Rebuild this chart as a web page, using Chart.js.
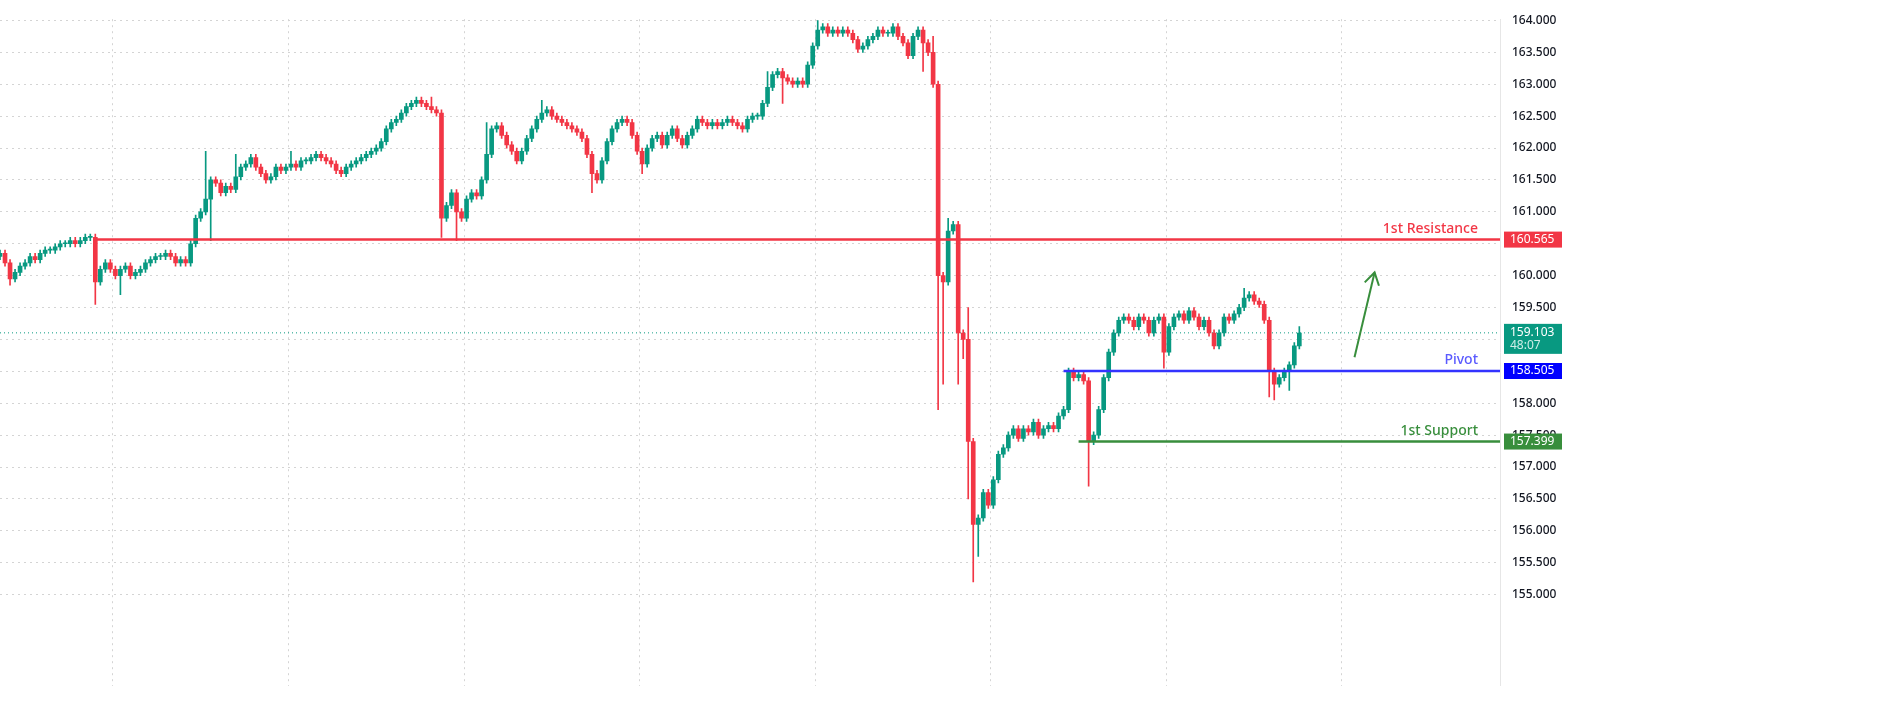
<!DOCTYPE html>
<html>
<head>
<meta charset="utf-8">
<script src="https://cdn.jsdelivr.net/npm/chart.js@4"></script>
<style>
  html, body { margin: 0; padding: 0; background: #fff; }
  #wrap { width: 1881px; height: 705px; }
</style>
</head>
<body>
<div id="wrap"><canvas id="chart"></canvas></div>
<script>
// closing prices, one per candle (open = previous close)
const closes = [
  160.35,160.2,159.95,160.05,160.15,160.2,160.3,160.25,160.35,160.4,160.4,160.45,160.5,160.5,160.55,160.5,160.55,160.6,160.6,
  159.9,160.1,160.2,160.1,160.0,160.1,160.15,160.0,160.05,160.1,160.2,160.25,160.3,160.3,160.35,160.3,160.2,160.25,160.2,
  160.5,160.9,161.0,161.2,161.5,161.45,
  161.3,161.4,161.35,161.55,161.7,161.75,161.85,161.7,
  161.6,161.5,161.55,161.7,161.65,161.7,161.75,161.7,161.8,161.8,161.85,161.9,161.85,161.8,
  161.75,161.65,161.6,161.7,161.75,161.8,161.85,161.9,161.95,162.0,
  162.1,162.3,162.4,162.45,162.55,162.65,162.7,162.75,162.7,162.65,162.6,162.55,
  160.9,161.1,161.3,161.0,160.9,161.2,161.3,161.25,
  161.5,161.9,162.3,162.35,162.2,162.05,161.95,161.8,161.95,
  162.15,162.3,162.45,162.55,162.6,162.5,162.45,
  162.4,162.35,162.3,162.25,162.15,161.9,161.6,
  161.5,161.8,162.1,162.3,162.4,162.45,162.4,
  162.2,161.95,161.75,162.0,162.15,162.2,
  162.05,162.2,162.3,162.15,162.05,162.2,162.3,162.45,
  162.4,162.35,162.4,162.35,162.4,162.45,162.4,162.35,162.3,162.45,162.5,162.5,
  162.7,162.95,163.15,163.2,163.1,163.05,163.0,163.05,163.0,
  163.3,163.6,163.85,163.9,163.8,163.85,
  163.8,163.85,163.8,163.7,163.55,163.6,163.7,163.75,163.85,163.8,163.8,163.9,163.75,163.65,
  163.45,163.75,163.85,163.65,163.5,
  163.0,160.0,159.9,160.7,160.8,159.1,159.0,
  157.4,156.1,156.2,156.6,156.4,156.8,157.2,157.3,157.5,157.6,157.45,157.6,157.55,157.7,157.5,157.6,
  157.65,157.6,157.8,157.9,158.5,158.4,158.45,158.35,157.4,157.5,157.9,158.4,158.8,159.1,159.3,159.35,
  159.3,159.2,159.35,159.3,159.1,159.3,159.35,158.8,159.2,159.35,159.4,159.3,159.45,159.35,159.2,159.3,
  159.1,158.9,159.1,159.35,159.3,159.4,159.5,159.65,159.7,159.6,159.55,
  159.3,158.5,158.3,158.4,158.5,158.6,158.9,159.1
];
const firstOpen = 160.3;
// candles whose wicks reach well beyond the body: index -> price
const longHighs = { 41: 161.95, 47: 161.9, 58: 161.95, 86: 162.8, 97: 162.4, 108: 162.75, 153: 163.2, 163: 164.0, 178: 163.95, 186: 163.75, 187: 163.05, 189: 160.9, 190: 160.85, 193: 159.5, 213: 158.55, 248: 159.8, 259: 159.2 };
const longLows = { 2: 159.85, 19: 159.55, 24: 159.7, 42: 160.55, 88: 160.6, 91: 160.55, 118: 161.3, 128: 161.6, 156: 162.7, 184: 163.2, 187: 157.9, 188: 158.3, 191: 158.3, 192: 158.7, 193: 156.5, 194: 155.2, 195: 155.6, 217: 156.7, 232: 158.55, 253: 158.1, 254: 158.05, 257: 158.2 };
const yTicks = [155, 155.5, 156, 156.5, 157, 157.5, 158, 158.5, 159, 159.5, 160, 160.5, 161, 161.5, 162, 162.5, 163, 163.5, 164];
const resistance = 160.565, pivot = 158.505, support = 157.399, lastPrice = 159.103;
const slots = 300;

const labels = Array.from({ length: slots }, (_, i) => i);
const opens = closes.map((c, i) => i === 0 ? firstOpen : closes[i - 1]);
const bodies = closes.map((c, i) => [opens[i], c]);
const wicks = closes.map((c, i) => [
  longLows[i] ?? Math.min(opens[i], c) - 0.05,
  longHighs[i] ?? Math.max(opens[i], c) + 0.05
]);
const colors = closes.map((c, i) => c >= opens[i] ? "#089981" : "#f23645");
const levelLine = (value, from) => labels.map((i) => i >= from ? value : null);

const UP = "#089981";

const overlay = {
  id: "overlay",
  afterDatasetsDraw(chart) {
    const { ctx, scales: { x, y }, chartArea } = chart;
    ctx.save();
    const bold = "500 14px 'Noto Sans', sans-serif";
    const small = "12px 'Noto Sans', sans-serif";
    const tags = [
      { v: resistance, text: "1st Resistance", color: "#f23645", bg: "#f23645", lab: "160.565" },
      { v: pivot, text: "Pivot", color: "#5a5aff", bg: "#0000ff", lab: "158.505" },
      { v: support, text: "1st Support", color: "#388e3c", bg: "#388e3c", lab: "157.399" }
    ];
    for (const t of tags) {
      const py = y.getPixelForValue(t.v);
      ctx.font = bold;
      ctx.fillStyle = t.color;
      ctx.textAlign = "right";
      ctx.textBaseline = "bottom";
      ctx.fillText(t.text, chartArea.right - 22, py - 4);
      ctx.fillStyle = t.bg;
      ctx.fillRect(chartArea.right + 4, py - 8, 58, 16);
      ctx.fillStyle = "#fff";
      ctx.textAlign = "left";
      ctx.textBaseline = "middle";
      ctx.font = small;
      ctx.fillText(t.lab, chartArea.right + 10, py);
    }
    const lp = y.getPixelForValue(lastPrice);
    ctx.fillStyle = UP;
    ctx.fillRect(chartArea.right + 4, lp - 9, 58, 30);
    ctx.fillStyle = "#fff";
    ctx.font = small;
    ctx.fillText("159.103", chartArea.right + 10, lp);
    ctx.fillStyle = "#cfeee8";
    ctx.fillText("48:07", chartArea.right + 10, lp + 13);

    // arrow
    const x1 = x.getPixelForValue(270), y1 = y.getPixelForValue(158.72);
    const x2 = x.getPixelForValue(274), y2 = y.getPixelForValue(160.05);
    ctx.strokeStyle = "#388e3c";
    ctx.lineWidth = 2;
    ctx.beginPath();
    ctx.moveTo(x1, y1);
    ctx.lineTo(x2, y2);
    ctx.stroke();
    const ang = Math.atan2(y2 - y1, x2 - x1);
    ctx.beginPath();
    ctx.moveTo(x2 - 14 * Math.cos(ang - 0.55), y2 - 14 * Math.sin(ang - 0.55));
    ctx.lineTo(x2, y2);
    ctx.lineTo(x2 - 14 * Math.cos(ang + 0.55), y2 - 14 * Math.sin(ang + 0.55));
    ctx.stroke();
    ctx.restore();
  }
};

new Chart(document.getElementById("chart"), {
  type: "bar",
  data: {
    labels: labels,
    datasets: [
      { type: "line", data: labels.map(() => lastPrice), borderColor: UP, borderWidth: 1, borderDash: [1, 3], pointRadius: 0, order: 5 },
      { type: "line", data: levelLine(resistance, 19), borderColor: "#f23645", borderWidth: 2.5, pointRadius: 0, order: 0 },
      { type: "line", data: levelLine(pivot, 212), borderColor: "#3333ff", borderWidth: 2.5, pointRadius: 0, order: 0 },
      { type: "line", data: levelLine(support, 215), borderColor: "#388e3c", borderWidth: 2.5, pointRadius: 0, order: 0 },
      { data: wicks, backgroundColor: colors, barThickness: 1, grouped: false, order: 3 },
      { data: bodies, backgroundColor: colors, barThickness: 4, grouped: false, minBarLength: 1, order: 2 }
    ]
  },
  options: {
    responsive: true,
    maintainAspectRatio: false,
    animation: false,
    layout: { padding: 0 },
    plugins: { legend: { display: false }, tooltip: { enabled: false } },
    scales: {
      x: {
        offset: false,
        ticks: { display: false },
        border: { display: false, dash: [2, 4] },
        grid: {
          color: (c) => (c.index % 35 === 23 ? "#d4d4d4" : "transparent"),
          lineWidth: 1,
          drawTicks: false
        }
      },
      y: {
        position: "right",
        min: 153.57,
        max: 164.02,
        afterBuildTicks: (scale) => { scale.ticks = yTicks.map((v) => ({ value: v })); },
        afterFit: (scale) => { scale.width = 381; },
        border: { display: true, color: "#e6e6e6", dash: [2, 4] },
        grid: { color: "#d4d4d4", drawTicks: false },
        ticks: {
          padding: 12,
          color: "#131722",
          font: { size: 12, weight: "500", family: "'Noto Sans', sans-serif" },
          callback: (v) => Number(v).toFixed(3)
        }
      }
    }
  },
  plugins: [overlay]
});
</script>
</body>
</html>
